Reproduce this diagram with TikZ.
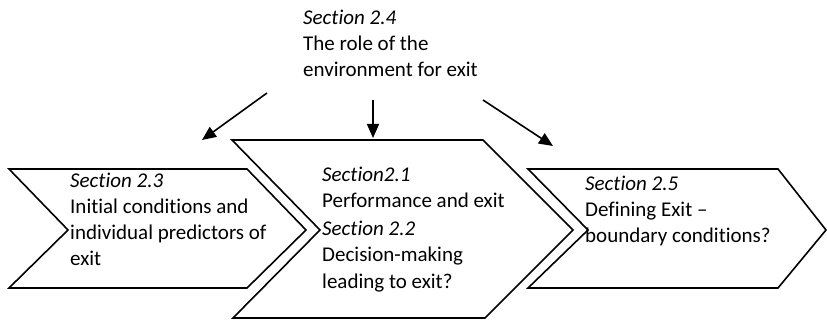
\documentclass[tikz,border=0pt]{standalone}
\usepackage{fontspec}
\setmainfont[Ligatures=NoCommon]{Carlito}
\usetikzlibrary{arrows.meta, positioning}

\begin{document}
\begin{tikzpicture}[
    x=1pt, y=-1pt,
    chev/.style={draw=black, line width=1.6pt, line join=miter, fill=white},
    sect/.style={anchor=base west, align=left, inner sep=0pt, font=\fontsize{21}{26}\selectfont},
    arrow/.style={-{Triangle[length=14pt, width=12pt]}, line width=1.6pt, black}
]
\useasboundingbox (0,0) rectangle (827,320);

% Chevrons
\draw[chev] (9,169) -- (247,169) -- (306,230) -- (247,288) -- (9,288) -- (68,230) -- cycle;
\draw[chev] (232,140) -- (483,140) -- (573,230) -- (485,318) -- (233,318) -- (320,230) -- cycle;
\draw[chev] (528,169) -- (778,169) -- (826,230) -- (778,288) -- (528,288) -- (588,230) -- cycle;

% Texts (placed at the baseline of their last line)
\node[sect] (env) at (303,77) {\textit{Section 2.4}\\The role of the\\environment for exit};
\node[sect] (initial) at (70,266) {\textit{Section 2.3}\\Initial conditions and\\individual predictors of\\exit};
\node[sect] (perf) at (322,288) {\textit{Section2.1}\\Performance and exit\\[3pt]\textit{Section 2.2}\\Decision-making\\leading to exit?};
\node[sect] (defexit) at (585,243) {\textit{Section 2.5}\\Defining Exit --\\boundary conditions?};

% Arrow ends
\coordinate (envL) at (267,93);
\coordinate (envM) at (373,100);
\coordinate (envR) at (483,100);
\coordinate (toL) at (202,140);
\coordinate (toM) at (373,138);
\coordinate (toR) at (553,146);

% Arrows
\draw[arrow] (envL) -- (toL);
\draw[arrow] (envM) -- (toM);
\draw[arrow] (envR) -- (toR);

\end{tikzpicture}
\end{document}
